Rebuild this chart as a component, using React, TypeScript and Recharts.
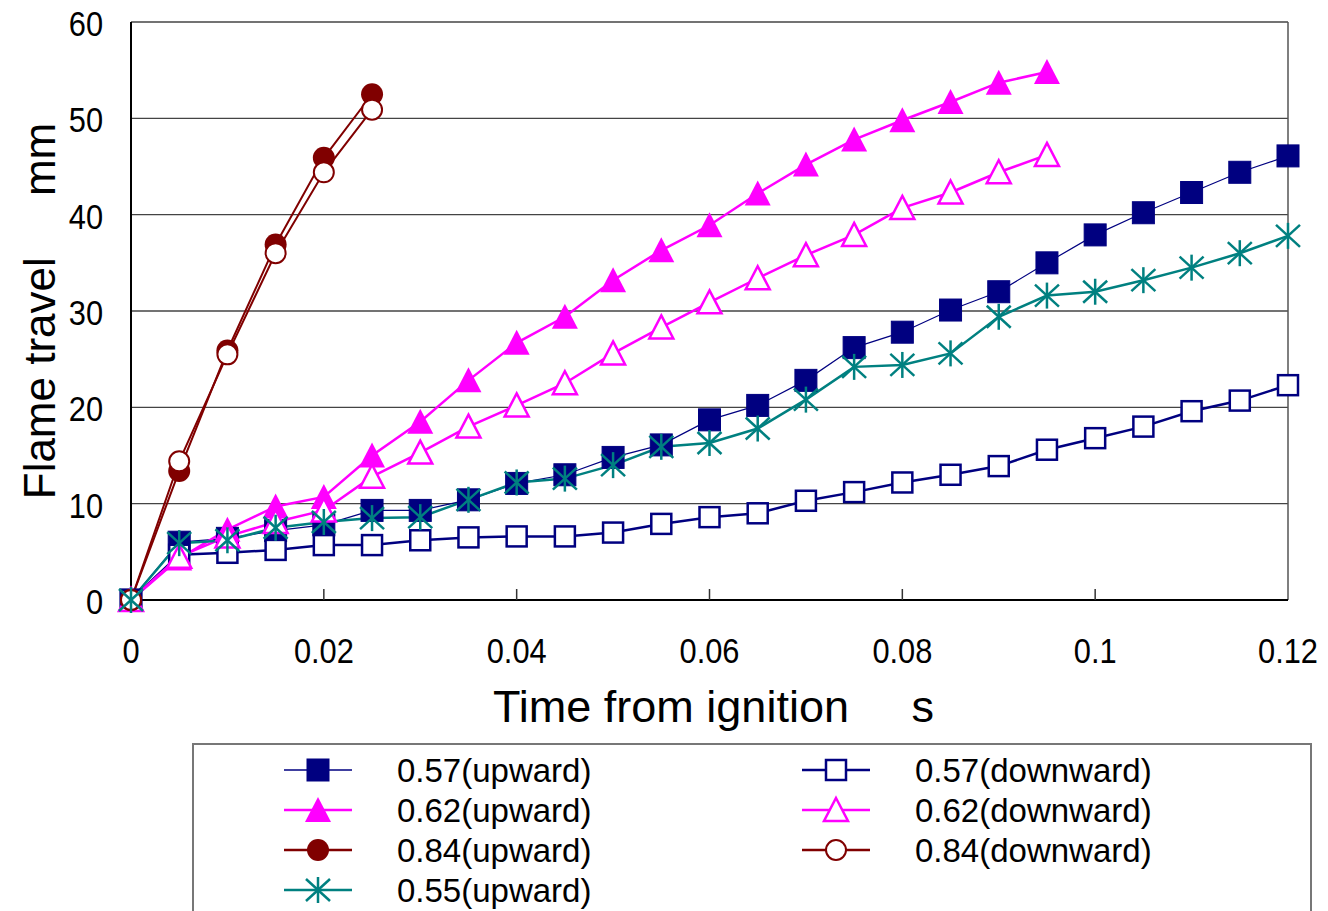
import { LineChart, Line, XAxis, YAxis, CartesianGrid, ReferenceLine, Legend, Label } from 'recharts';

// time from ignition, s
const times = [
  0, 0.005, 0.01, 0.015, 0.02, 0.025, 0.03, 0.035, 0.04, 0.045, 0.05, 0.055, 0.06,
  0.065, 0.07, 0.075, 0.08, 0.085, 0.09, 0.095, 0.1, 0.105, 0.11, 0.115, 0.12,
];

// flame travel, mm
const up057 = [0, 6.0, 6.4, 7.2, 7.8, 9.3, 9.3, 10.4, 12.1, 13.0, 14.8, 16.1, 18.7, 20.2, 22.8, 26.2, 27.8, 30.1, 32.0, 35.0, 37.9, 40.2, 42.3, 44.4, 46.1];
const down057 = [0, 4.7, 4.9, 5.2, 5.7, 5.7, 6.2, 6.5, 6.6, 6.6, 7.0, 7.9, 8.6, 9.0, 10.3, 11.2, 12.2, 13.0, 13.9, 15.6, 16.8, 18.0, 19.6, 20.7, 22.3];
const up062 = [0, 4.3, 7.3, 9.7, 10.7, 15.0, 18.5, 22.8, 26.7, 29.4, 33.2, 36.3, 38.9, 42.2, 45.2, 47.8, 49.8, 51.7, 53.7, 54.8];
const down062 = [0, 4.5, 6.6, 8.1, 9.3, 12.8, 15.3, 18.0, 20.2, 22.5, 25.6, 28.3, 30.9, 33.4, 35.8, 37.9, 40.7, 42.3, 44.4, 46.2];
const up084 = [0, 13.4, 25.9, 36.9, 45.9, 52.5];
const down084 = [0, 14.4, 25.5, 36.0, 44.4, 50.9];
const up055 = [0, 5.9, 6.2, 7.5, 8.1, 8.5, 8.6, 10.4, 12.2, 12.6, 14.0, 15.9, 16.3, 17.8, 20.8, 24.2, 24.4, 25.6, 29.4, 31.6, 32.0, 33.2, 34.5, 36.0, 37.8];

const xTicks = [0, 0.02, 0.04, 0.06, 0.08, 0.1, 0.12];
const yTicks = [0, 10, 20, 30, 40, 50, 60];

const NAVY = '#000080';
const MAGENTA = '#ff00ff';
const MAROON = '#800000';
const TEAL = '#008080';
const FONT = '"Liberation Sans", Arial, sans-serif';

type Kind = 'sqFill' | 'sqOpen' | 'triFill' | 'triOpen' | 'cirFill' | 'cirOpen' | 'star';

const series: { name: string; vals: number[]; color: string; width: number; kind: Kind }[] = [
  { name: '0.57(upward)', vals: up057, color: NAVY, width: 1.2, kind: 'sqFill' },
  { name: '0.57(downward)', vals: down057, color: NAVY, width: 2.5, kind: 'sqOpen' },
  { name: '0.62(upward)', vals: up062, color: MAGENTA, width: 2.5, kind: 'triFill' },
  { name: '0.62(downward)', vals: down062, color: MAGENTA, width: 2.5, kind: 'triOpen' },
  { name: '0.84(upward)', vals: up084, color: MAROON, width: 2, kind: 'cirFill' },
  { name: '0.84(downward)', vals: down084, color: MAROON, width: 2, kind: 'cirOpen' },
  { name: '0.55(upward)', vals: up055, color: TEAL, width: 2.5, kind: 'star' },
];

// legend layout: left column then right column, like the original
const legendLeft = ['0.57(upward)', '0.62(upward)', '0.84(upward)', '0.55(upward)'];
const legendRight = ['0.57(downward)', '0.62(downward)', '0.84(downward)'];

function Marker({ kind, cx, cy, color }: { kind: Kind; cx: number; cy: number; color: string }) {
  switch (kind) {
    case 'sqFill':
      return <rect x={cx - 11} y={cy - 11} width={22} height={22} fill={color} stroke={color} strokeWidth={1} />;
    case 'sqOpen':
      return <rect x={cx - 10} y={cy - 10} width={20} height={20} fill="#fff" stroke={color} strokeWidth={2.5} />;
    case 'triFill':
      return <polygon points={`${cx},${cy - 13} ${cx + 13},${cy + 12} ${cx - 13},${cy + 12}`} fill={color} />;
    case 'triOpen':
      return (
        <polygon
          points={`${cx},${cy - 12} ${cx + 12},${cy + 11} ${cx - 12},${cy + 11}`}
          fill="#fff"
          stroke={color}
          strokeWidth={2.5}
        />
      );
    case 'cirFill':
      return <circle cx={cx} cy={cy} r={11} fill={color} />;
    case 'cirOpen':
      return <circle cx={cx} cy={cy} r={10} fill="#fff" stroke={color} strokeWidth={2} />;
    case 'star':
      return (
        <g stroke={color} strokeWidth={2.5}>
          <line x1={cx} y1={cy - 13} x2={cx} y2={cy + 13} />
          <line x1={cx - 12} y1={cy - 11} x2={cx + 12} y2={cy + 11} />
          <line x1={cx - 12} y1={cy + 11} x2={cx + 12} y2={cy - 11} />
        </g>
      );
  }
  return null;
}

function XTick({ x, y, payload }: any) {
  const v = payload.value as number;
  return (
    <g>
      {v > 0 && v < 0.12 && <line x1={x} y1={y - 11} x2={x} y2={y} stroke="#333" strokeWidth={1.5} />}
      <g transform={`translate(${x},${y + 63})`}>
        <text transform="scale(0.88,1)" textAnchor="middle" fontSize={35} fontFamily={FONT} fill="#000">
          {String(v)}
        </text>
      </g>
    </g>
  );
}

function YTick({ x, y, payload }: any) {
  return (
    <g transform={`translate(${x - 28},${y + 14})`}>
      <text transform="scale(0.88,1)" textAnchor="end" fontSize={35} fontFamily={FONT} fill="#000">
        {String(payload.value)}
      </text>
    </g>
  );
}

function LegendBox() {
  const row = (name: string, i: number, col: number) => {
    const s = series.find((d) => d.name === name)!;
    const lx = col === 0 ? 90 : 608;
    const cy = 25 + i * 40;
    return (
      <g key={name}>
        <line x1={lx} y1={cy} x2={lx + 68} y2={cy} stroke={s.color} strokeWidth={s.kind === 'sqFill' ? 1.5 : 2.5} />
        <Marker kind={s.kind} cx={lx + 34} cy={cy} color={s.color} />
        <text x={lx + 113} y={cy + 12} fontSize={33} fontFamily={FONT} fill="#000">
          {name}
        </text>
      </g>
    );
  };
  return (
    <div style={{ width: 1116, height: 168, borderTop: '2px solid #777', borderLeft: '2px solid #777', borderRight: '2px solid #777', background: '#fff' }}>
      <svg width={1116} height={168}>
        {legendLeft.map((n, i) => row(n, i, 0))}
        {legendRight.map((n, i) => row(n, i, 1))}
      </svg>
    </div>
  );
}

export default function App() {
  return (
    <div style={{ position: 'absolute', left: 0, top: 0, width: 1328, height: 911, overflow: 'hidden', background: '#fff' }}>
      <LineChart width={1328} height={911} margin={{ top: 22, right: 40, bottom: 251, left: 0 }}>
        <CartesianGrid horizontal vertical={false} stroke="#444" strokeWidth={1.3} />
        <XAxis
          dataKey="x"
          type="number"
          domain={[0, 0.12]}
          ticks={xTicks}
          height={60}
          tickSize={0}
          tickMargin={0}
          tickLine={false}
          tick={<XTick />}
          axisLine={{ stroke: '#000', strokeWidth: 2 }}
          interval={0}
        >
          <Label
            content={({ viewBox }: any) => (
              <text
                x={viewBox.x + viewBox.width / 2 + 4}
                y={722}
                textAnchor="middle"
                fontSize={45}
                fontFamily={FONT}
                fill="#000"
              >
                {'Time from ignition\u00A0\u00A0\u00A0\u00A0\u00A0s'}
              </text>
            )}
          />
        </XAxis>
        <YAxis
          type="number"
          domain={[0, 60]}
          ticks={yTicks}
          width={131}
          tickSize={0}
          tickMargin={0}
          tickLine={false}
          tick={<YTick />}
          axisLine={{ stroke: '#000', strokeWidth: 2 }}
          interval={0}
        >
          <Label
            content={({ viewBox }: any) => (
              <text
                transform={`translate(55,${viewBox.y + viewBox.height / 2}) rotate(-90)`}
                textAnchor="middle"
                fontSize={44}
                fontFamily={FONT}
                fill="#000"
              >
                {'Flame travel\u00A0\u00A0\u00A0\u00A0\u00A0mm'}
              </text>
            )}
          />
        </YAxis>
        <ReferenceLine x={0.12} stroke="#555" strokeWidth={1.5} />
        <Legend
          layout="horizontal"
          verticalAlign="middle"
          align="center"
          wrapperStyle={{ position: 'absolute', left: 192, top: 743, width: 1120, height: 168 }}
          content={() => <LegendBox />}
        />
        {series.map((s) => (
          <Line
            key={s.name}
            name={s.name}
            data={s.vals.map((v, i) => ({ x: times[i], y: v }))}
            dataKey="y"
            type="linear"
            stroke={s.color}
            strokeWidth={s.width}
            dot={(p: any) => <Marker key={`${s.name}-${p.index}`} kind={s.kind} cx={p.cx} cy={p.cy} color={s.color} />}
            activeDot={false}
            isAnimationActive={false}
          />
        ))}
      </LineChart>
    </div>
  );
}
